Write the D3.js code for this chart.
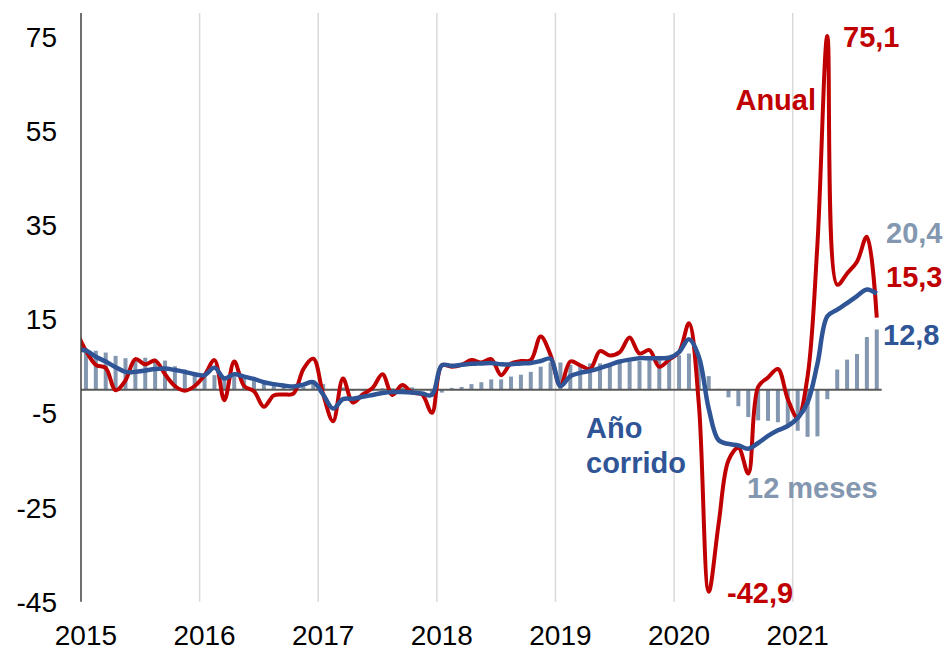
<!DOCTYPE html>
<html><head><meta charset="utf-8">
<script src="https://cdn.jsdelivr.net/npm/d3@7"></script>
<style>
body{margin:0;background:#fff}
svg{display:block}
text{font-family:"Liberation Sans",Arial,Helvetica,sans-serif}
</style>
</head><body>
<svg id="chart" width="946" height="650"></svg>
<script>
// ---- data (monthly, Jan 2015 - Sep 2021) ----
const years = ["2015","2016","2017","2018","2019","2020","2021"];
const yTicks = [-45,-25,-5,15,35,55,75];

// Variación anual (red line)
const anual = [
  8.3, 5.3, 4.6, -0.1, 2.0, 6.5, 5.4, 6.2, 3.3, 0.8, -0.2, 0.8,
  3.1, 6.3, -2.2, 6.0, 0.8, -0.3, -3.6, -1.2, -1.0, -0.8, 4.4, 6.6,
  -1.0, -6.7, 2.4, -2.7, -1.0, 0.4, 3.3, -1.1, 1.0, -0.6, -1.0, -4.9,
  5.2, 4.9, 5.3, 6.3, 5.8, 6.5, 3.1, 5.6, 6.1, 6.3, 11.3, 7.4,
  0.8, 6.0, 5.2, 4.4, 8.2, 7.3, 8.0, 11.1, 7.7, 8.4, 4.9, 6.4,
  8.0, 14.1, -3.0, -42.9, -28.5, -15.0, -12.3, -17.8, 0.6, 2.6, 4.4, -2.0,
  -6.0, 2.8, 31.0, 75.1, 22.3, 24.7, 27.2, 32.5, 15.3
];
// Variación año corrido (blue line)
const anioCorrido = [
  8.3, 7.0, 6.0, 4.8, 3.8, 3.8, 4.1, 4.4, 4.5, 4.2, 3.8, 3.3,
  3.1, 4.7, 2.4, 3.3, 2.8, 2.3, 1.6, 1.2, 0.9, 0.7, 1.1, 1.6,
  -1.0, -4.0, -2.0, -1.9, -1.5, -1.1, -0.7, -0.5, -0.5, -0.6, -0.8, -1.1,
  5.2, 5.1, 5.3, 5.5, 5.6, 5.7, 5.4, 5.4, 5.6, 5.7, 6.1, 6.6,
  0.8, 2.9, 3.6, 4.0, 4.6, 5.3, 6.0, 6.4, 6.7, 6.7, 6.7, 6.8,
  8.0, 10.7, 7.0, -4.0, -10.7, -11.5, -11.8, -12.5, -11.3, -9.8, -8.6, -7.7,
  -6.0, -2.7, 5.5, 15.6, 17.0, 18.4, 19.9, 21.3, 20.4
];
// Variación doce meses (bars)
const doceMeses = [
  8.8, 8.3, 7.9, 7.2, 6.7, 6.6, 6.8, 6.6, 6.2, 5.0, 4.3, 3.6,
  3.2, 3.1, 2.8, 2.8, 2.4, 2.0, 1.5, 1.1, 0.8, 0.6, 0.7, 1.4,
  1.2, 0.2, 0.5, -0.2, -0.3, -0.3, 0.3, 0.3, 0.5, 0.5, 0.1, -1.0,
  -0.6, 0.4, 0.6, 1.2, 1.6, 2.2, 2.2, 2.8, 3.2, 3.8, 4.9, 5.8,
  5.8, 5.3, 5.2, 5.6, 5.6, 5.7, 6.0, 6.0, 6.1, 6.3, 6.3, 6.5,
  7.3, 7.7, 6.7, 2.9, 0.2, -1.6, -3.5, -5.8, -6.5, -6.6, -6.9, -7.5,
  -8.7, -10.0, -9.9, -2.0, 4.3, 6.4, 7.6, 11.2, 12.8
];
// Dec 2014 values (lines enter the plot from the left edge)
const anualDec2014 = 12.6;
const anioCorridoDec2014 = 8.6;

// ---- layout ----
const pLeft = 81, pRight = 881.7, pTop = 13, pBottom = 601.7;
const RED = "#C00000", BLUE = "#2F5597", GREY = "#8497B0";
const n = doceMeses.length;

const svg = d3.select("#chart");
const x = d3.scaleLinear().domain([0, n]).range([pLeft, pRight]);
const y = d3.scaleLinear().domain([-45, 80]).range([pBottom, pTop]);

svg.append("defs").append("clipPath").attr("id","plotclip")
  .append("rect").attr("x", pLeft).attr("y", 0).attr("width", pRight-pLeft).attr("height", 650);

// vertical year gridlines
svg.append("g").selectAll("line")
  .data(years.slice(1).map((d,k)=> (k+1)*12))
  .join("line")
  .attr("x1", d=>x(d)).attr("x2", d=>x(d))
  .attr("y1", pTop).attr("y2", pBottom)
  .attr("stroke", "#D9D9D9").attr("stroke-width", 1.5);

// bars
svg.append("g").selectAll("rect")
  .data(doceMeses)
  .join("rect")
  .attr("x", (d,i)=>x(i+0.5)-2)
  .attr("width", 4)
  .attr("y", d=>y(Math.max(0,d)))
  .attr("height", d=>Math.abs(y(d)-y(0)))
  .attr("fill", GREY);

// zero line
svg.append("line")
  .attr("x1", pLeft).attr("x2", pRight)
  .attr("y1", y(0)).attr("y2", y(0))
  .attr("stroke", "#595959").attr("stroke-width", 2);

// lines
const line = d3.line()
  .x(d=>x(d.i+0.5)).y(d=>y(d.v))
  .curve(d3.curveCatmullRom.alpha(0.5));
const gl = svg.append("g").attr("clip-path","url(#plotclip)");
const redData = [{i:-1, v:anualDec2014}].concat(anual.map((v,i)=>({i,v})));
const blueData = [{i:-1, v:anioCorridoDec2014}].concat(anioCorrido.map((v,i)=>({i,v})));
gl.append("path").datum(redData).attr("d", line)
  .attr("fill","none").attr("stroke",RED).attr("stroke-width",4)
  .attr("stroke-linejoin","round");
gl.append("path").datum(blueData).attr("d", line)
  .attr("fill","none").attr("stroke",BLUE).attr("stroke-width",4.5)
  .attr("stroke-linejoin","round");

// left axis line
svg.append("line")
  .attr("x1", pLeft).attr("x2", pLeft).attr("y1", pTop).attr("y2", pBottom)
  .attr("stroke", "#404040").attr("stroke-width", 1.5);

// y tick labels
svg.append("g").selectAll("text")
  .data(yTicks).join("text")
  .attr("x", 57).attr("y", d=>y(d))
  .attr("dy", "0.36em")
  .attr("text-anchor","end")
  .attr("font-size", 28).attr("fill","#000")
  .text(d=>String(d));

// x labels
svg.append("g").selectAll("text")
  .data(years).join("text")
  .attr("x", (d,k)=>x(k*12+0.5)).attr("y", 645)
  .attr("text-anchor","middle")
  .attr("font-size", 28).attr("fill","#000")
  .text(d=>d);

// annotations
const ann = [
  {t:"75,1", x:843, y:47, c:RED, a:"start"},
  {t:"Anual", x:816, y:110, c:RED, a:"end"},
  {t:"20,4", x:886, y:243, c:GREY, a:"start"},
  {t:"15,3", x:886, y:287, c:RED, a:"start"},
  {t:"12,8", x:883, y:345, c:BLUE, a:"start"},
  {t:"Año", x:586, y:438, c:BLUE, a:"start"},
  {t:"corrido", x:586, y:473, c:BLUE, a:"start"},
  {t:"12 meses", x:747, y:498, c:GREY, a:"start"},
  {t:"-42,9", x:727, y:603, c:RED, a:"start"}
];
svg.append("g").selectAll("text")
  .data(ann).join("text")
  .attr("x", d=>d.x).attr("y", d=>d.y)
  .attr("text-anchor", d=>d.a)
  .attr("font-size", 29).attr("font-weight","bold")
  .attr("fill", d=>d.c)
  .text(d=>d.t);
</script>
</body></html>
